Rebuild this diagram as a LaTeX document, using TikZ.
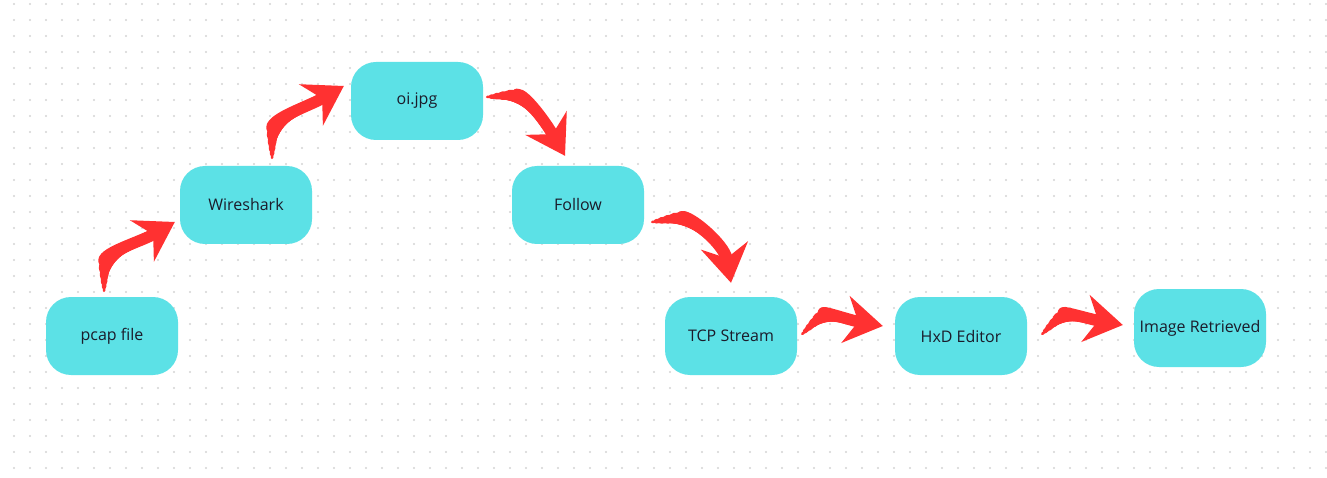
\documentclass[tikz,border=0pt]{standalone}
\usepackage{fontspec}
\setmainfont{Open Sans}
\usetikzlibrary{arrows.meta}
\definecolor{boxcyan}{HTML}{5CE1E6}
\definecolor{brushred}{HTML}{FF3131}
\definecolor{dotgray}{HTML}{D4D4D4}
\definecolor{textdark}{HTML}{1B1B2A}
\begin{document}
\begin{tikzpicture}[x=1pt,y=1pt,
  stepnode/.style={fill=boxcyan, rounded corners=25pt, minimum width=132pt,
    minimum height=78pt, inner sep=0pt, text=textdark,
    font=\fontsize{16}{19}\selectfont},
  brushlayer/.style 2 args={postaction={draw=brushred, line width=#1,
    line cap=round, arrows=-, shorten <=#2, shorten >=20pt}},
  brush/.style={draw=brushred, line width=2.5pt, line cap=round, arrows=-,
    shorten <=0pt, shorten >=20pt,
    brushlayer={4.5pt}{4pt}, brushlayer={6.5pt}{9pt},
    brushlayer={8.5pt}{15pt}, brushlayer={10.5pt}{22pt},
    postaction={draw=brushred, line width=11.5pt, line cap=round,
      shorten <=30pt, shorten >=0pt,
      -{Stealth[length=38pt,width=48pt,inset=13pt,line width=0pt]}}}]
  \useasboundingbox (0,0) rectangle (1327,-478);
  \fill[white] (0,0) rectangle (1327,-478);
  % dotted canvas
  \foreach \i in {0,...,82}
  {\foreach \j in {0,...,29}
  \fill[dotgray] (14+16*\i, -4-16*\j) circle (1.1);
  };
  \node[stepnode] (pcap) at (112,-336) {pcap file};
  \node[stepnode] (wire) at (246,-205) {Wireshark};
  \node[stepnode] (oi) at (417,-101) {oi.jpg};
  \node[stepnode] (follow) at (578,-205) {Follow};
  \node[stepnode] (tcp) at (731,-336) {TCP Stream};
  \node[stepnode] (hxd) at (961,-336) {HxD Editor};
  \node[stepnode] (img) at (1200,-328) {Image Retrieved};
  \draw[brush] ([shift={(-8,6)}]pcap.north) to[out=90,in=210] ([shift={(-5,-17)}]wire.west);
  \draw[brush] ([shift={(26,8)}]wire.north) to[out=90,in=210] ([shift={(-7,15)}]oi.west);
  \draw[brush] ([shift={(4,4)}]oi.east) to[out=5,in=120] ([shift={(-13,10)}]follow.north);
  \draw[brush] ([shift={(8,-17)}]follow.east) to[out=10,in=100] ([shift={(0,14)}]tcp.north);
  \draw[brush] ([shift={(5,2)}]tcp.east) to[out=45,in=170] ([shift={(-12,10)}]hxd.west);
  \draw[brush] ([shift={(15,2)}]hxd.east) to[out=45,in=170] ([shift={(-11,3)}]img.west);
\end{tikzpicture}
\end{document}
